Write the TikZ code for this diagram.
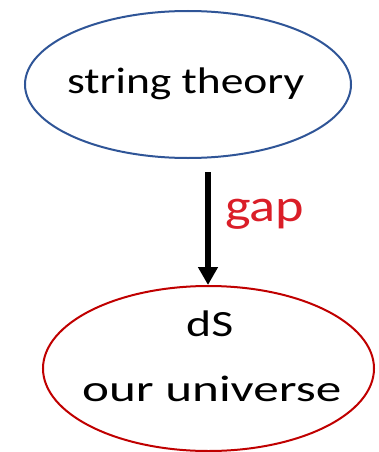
\documentclass[tikz,border=0pt]{standalone}
\usepackage{fontspec}
\setmainfont{Carlito}
\usetikzlibrary{shapes.geometric,arrows.meta}
\definecolor{ovalblue}{RGB}{47,85,151}
\definecolor{ovalred}{RGB}{192,0,0}
\definecolor{gapred}{RGB}{218,30,40}
% stretch a word sideways to a given width, keeping its height
\newcommand{\widetext}[2]{\resizebox{#1}{\height}{#2}}
\begin{document}
\begin{tikzpicture}[x=1pt,y=1pt,
	oval/.style={ellipse,draw,line width=2pt,inner sep=0pt},
	word/.style={anchor=base west,inner sep=0pt,font=\fontsize{37}{44}\selectfont}]
	\useasboundingbox (0,0) rectangle (378,-452);
	\node[oval,draw=ovalblue,minimum width=326pt,minimum height=147pt] (1) at (188,-84.5) {};
	\node[oval,draw=ovalred,minimum width=331pt,minimum height=165pt] (2) at (208.5,-368.5) {};
	\node[word] (3) at (67,-93) {\widetext{237pt}{string theory}};
	\node[word] (4) at (186,-336.7) {\widetext{47pt}{dS}};
	\node[word] (5) at (82,-401.7) {\widetext{259pt}{our universe}};
	\node[word,text=gapred,font=\fontsize{46}{52}\selectfont] (6) at (225,-221.7) {\widetext{79pt}{gap}};
	\coordinate (7) at (208,-172);
	\draw[line width=6.5pt,-{Triangle[width=19pt,length=18pt]}] (7) -- (2.north -| 7);
\end{tikzpicture}
\end{document}
